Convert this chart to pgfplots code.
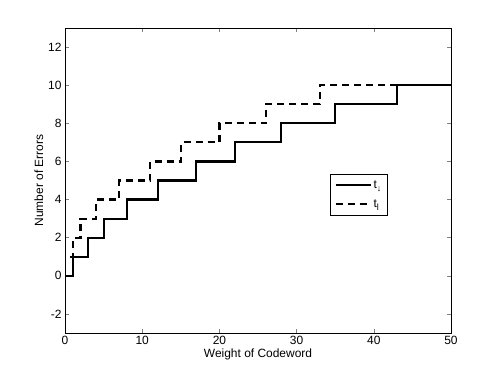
\documentclass[border=0pt]{standalone}
\usepackage{pgfplots}
\pgfplotsset{compat=1.18}
\usepackage{fontspec}
\setmainfont{Liberation Sans}
\begin{document}
\begin{tikzpicture}
\begin{axis}[
  scale only axis, width=386bp, height=305bp,
  xmin=0, xmax=50, ymin=-3, ymax=13,
  xtick={0,10,...,50}, ytick={-2,0,...,12},
  tick align=inside, tick pos=both,
  major tick length=4bp,
  axis line style={line width=0.6pt},
  tick style={line width=0.5pt},
  ticklabel style={font=\fontsize{12}{14}\selectfont},
  label style={font=\fontsize{12}{14}\selectfont},
  /pgf/number format/assume math mode=true,
  xlabel={Weight of Codeword}, ylabel={Number of Errors},
  xlabel style={yshift=3bp}, ylabel style={yshift=-2bp},
  legend style={at={(0.687,0.521)}, anchor=north west, draw=black, line width=0.6pt,
    font=\fontsize{12}{14}\selectfont, row sep=6bp, inner xsep=4bp, inner ysep=4bp},
  legend cell align=left,
  legend image code/.code={\draw[#1] (0bp,0bp) -- (35bp,0bp);},
]
\addplot[black, line width=2.2bp] coordinates {
(0,0) (1,0) (1,1) (3,1) (3,2) (5,2) (5,3) (8,3) (8,4) (12,4) (12,5) (17,5) (17,6) (22,6) (22,7) (28,7) (28,8) (35,8) (35,9) (43,9) (43,10) (50,10)};
\addlegendentry{t\raisebox{-3.5bp}{\fontsize{9}{9}\selectfont ↓}}
\addplot[black, line width=2.2bp, dash pattern=on 7bp off 5bp] coordinates {
(0,0) (0,1) (1,1) (1,2) (2,2) (2,3) (4,3) (4,4) (7,4) (7,5) (11,5) (11,6) (15,6) (15,7) (20,7) (20,8) (26,8) (26,9) (33,9) (33,10) (50,10)};
\addlegendentry{t\raisebox{-3.5bp}{\fontsize{9}{9}\selectfont l}}
\end{axis}
\useasboundingbox ([xshift=-65bp,yshift=-42bp]current axis.south west) rectangle ([xshift=47bp,yshift=28bp]current axis.north east);
\end{tikzpicture}
\end{document}
